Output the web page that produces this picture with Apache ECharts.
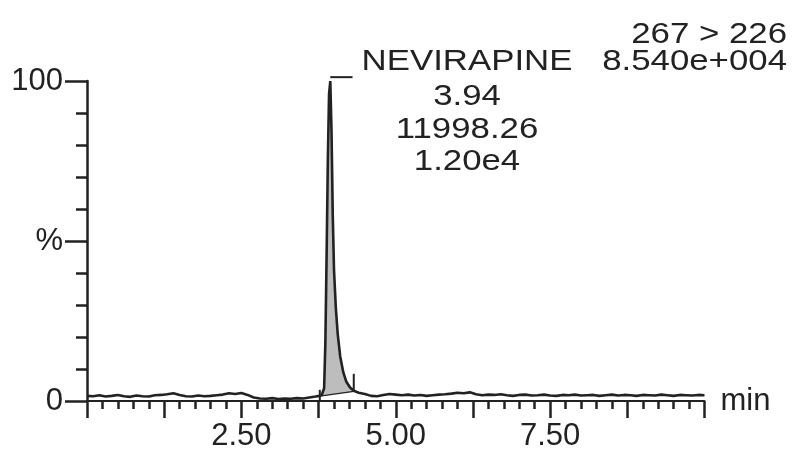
<!DOCTYPE html>
<html><head><meta charset="utf-8">
<script src="https://cdn.jsdelivr.net/npm/echarts@6/dist/echarts.min.js"></script>
<style>html,body{margin:0;padding:0;background:#fff}#c{width:792px;height:456px}</style>
</head><body><div id="c"></div>
<script>
// Chromatogram (time in min, relative intensity in %)
const times = [0.00,0.10,0.20,0.30,0.40,0.50,0.60,0.70,0.80,0.90,1.00,1.10,1.20,1.30,1.40,1.50,1.60,1.70,1.80,1.90,2.00,2.10,2.20,2.30,2.40,2.50,2.60,2.70,2.80,2.90,3.00,3.10,3.20,3.30,3.40,3.50,3.60,3.70,3.76,3.80,3.84,3.86,3.88,3.90,3.92,3.94,3.96,3.98,4.00,4.03,4.06,4.10,4.15,4.20,4.26,4.32,4.40,4.50,4.60,4.70,4.80,4.90,5.00,5.10,5.20,5.30,5.40,5.50,5.60,5.70,5.80,5.90,6.00,6.10,6.20,6.30,6.40,6.50,6.60,6.70,6.80,6.90,7.00,7.10,7.20,7.30,7.40,7.50,7.60,7.70,7.80,7.90,8.00,8.10,8.20,8.30,8.40,8.50,8.60,8.70,8.80,8.90,9.00,9.10,9.20,9.30,9.40,9.50,9.60,9.70,9.80,9.90,10.00];
const intensity = [1.6,1.5,1.8,1.4,1.6,1.9,1.5,1.3,1.7,1.5,1.4,1.8,1.9,2.1,2.4,1.9,1.5,1.4,1.7,1.5,1.6,1.8,2.0,2.4,2.2,2.5,1.9,1.1,0.8,0.7,0.9,0.6,0.8,0.7,0.9,0.8,1.1,1.4,1.6,1.8,4.0,18,45,75,96,100,84,58,41,29,21,14,9,6,4.2,3.2,2.6,2.2,1.6,1.5,1.9,2.2,2.0,1.8,2.0,1.7,1.9,1.6,1.8,2.0,2.1,2.3,2.6,2.4,2.7,2.1,1.8,2.0,1.9,2.1,1.8,1.6,1.9,2.0,1.7,1.8,2.0,1.7,1.6,1.9,1.8,2.0,1.7,1.8,1.9,1.6,1.8,2.0,1.7,1.9,1.8,1.6,1.9,1.8,1.7,2.0,1.8,1.6,1.9,1.8,1.7,1.9,1.8];
// Integrated peak region
const peakStart = 3.80, peakEnd = 4.32;
const baseStart = 1.6, baseEnd = 3.0;
const apexTime = 3.94, leaderEnd = 4.30;
// Tick labels
const xLabels = [2.5, 5, 7.5];
const yLabels = {100: '100', 50: '%', 0: '0'};
// Annotation texts
const peakText = ['NEVIRAPINE', '3.94', '11998.26', '1.20e4'];
const headerText = ['267 > 226', '8.540e+004'];

const lineData = times.map((t, i) => [t, intensity[i]]);
const baseAt = t => baseStart + (baseEnd - baseStart) * (t - peakStart) / (peakEnd - peakStart);
const peakIdx = times.map((t, i) => i).filter(i => times[i] >= peakStart && times[i] <= peakEnd);

const FONT = 'Liberation Sans, Arial, sans-serif';
const dark = '#222';
const chart = echarts.init(document.getElementById('c'), null, {renderer: 'canvas'});
const sx = 1.2;
const graphics = [];
const pyy = [62, 97, 130, 162];
peakText.forEach((s, i) => graphics.push({type: 'text', x: 467, y: pyy[i], scaleX: sx,
  style: {text: s, font: '29px ' + FONT, fill: dark, textAlign: 'center', textVerticalAlign: 'middle'}}));
const hy = [35, 62];
headerText.forEach((s, i) => graphics.push({type: 'text', x: 787, y: hy[i], scaleX: sx,
  style: {text: s, font: '29px ' + FONT, fill: dark, textAlign: 'right', textVerticalAlign: 'middle'}}));

chart.setOption({
  animation: false,
  backgroundColor: '#fff',
  grid: {left: 87, right: 87.5, top: 81, bottom: 55},
  xAxis: {
    type: 'value', min: 0, max: 10, interval: 1.25,
    name: 'min', nameLocation: 'end', nameGap: 16,
    nameTextStyle: {fontFamily: FONT, fontSize: 31, color: dark, verticalAlign: 'middle'},
    axisLine: {lineStyle: {color: dark, width: 2}},
    axisTick: {show: true, length: 17, lineStyle: {color: dark, width: 2.5}},
    minorTick: {show: true, splitNumber: 5, length: 8, lineStyle: {color: dark, width: 2.5}},
    axisLabel: {fontFamily: FONT, fontSize: 31, color: dark, margin: 20,
      formatter: v => xLabels.some(l => Math.abs(l - v) < 1e-6) ? v.toFixed(2) : ''},
    splitLine: {show: false}, minorSplitLine: {show: false}
  },
  yAxis: {
    type: 'value', min: 0, max: 100, interval: 50,
    axisLine: {show: true, lineStyle: {color: dark, width: 2.5}},
    axisTick: {show: true, length: 22, lineStyle: {color: dark, width: 2.5}},
    minorTick: {show: true, splitNumber: 5, length: 11, lineStyle: {color: dark, width: 2.5}},
    axisLabel: {fontFamily: FONT, fontSize: 31, color: dark, margin: 24,
      formatter: v => yLabels[v] !== undefined ? yLabels[v] : ''},
    splitLine: {show: false}, minorSplitLine: {show: false}
  },
  graphic: graphics,
  series: [
    {type: 'custom', data: [0], z: 1, clip: true,
      renderItem: (params, api) => {
        const top = peakIdx.map(i => api.coord([times[i], intensity[i]]));
        const bot = [api.coord([peakEnd, baseAt(peakEnd)]), api.coord([peakStart, baseAt(peakStart)])];
        return {type: 'group', children: [
          {type: 'polygon', shape: {points: top.concat(bot)}, style: {fill: '#bdbdbd'}},
          {type: 'line', shape: {x1: bot[1][0], y1: bot[1][1], x2: bot[0][0], y2: bot[0][1]},
            style: {stroke: dark, lineWidth: 1.2}}
        ]};
      }},
    {type: 'line', data: lineData, symbol: 'none', lineStyle: {width: 2.6, color: dark}, z: 3},
    {type: 'line', data: [[peakStart - 0.03, 0], [peakStart - 0.03, 3.5]], symbol: 'none', clip: false,
      lineStyle: {width: 2, color: dark}, z: 3},
    {type: 'line', data: [[peakEnd, 3.0], [peakEnd, 8.5]], symbol: 'none', clip: false,
      lineStyle: {width: 2, color: dark}, z: 3},
    {type: 'line', data: [[apexTime, 101.2], [leaderEnd, 101.2]], symbol: 'none', clip: false,
      lineStyle: {width: 2, color: dark}, z: 3}
  ]
});
</script></body></html>
